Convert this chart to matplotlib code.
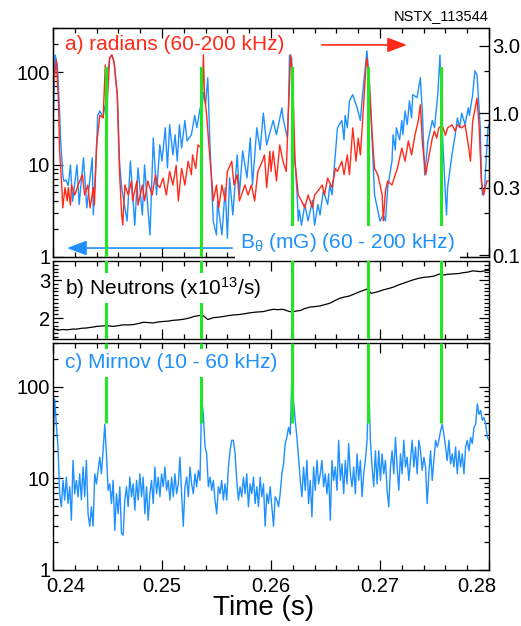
import numpy as np
import matplotlib
matplotlib.use('Agg')
import matplotlib.pyplot as plt
from matplotlib.ticker import FixedLocator, FixedFormatter, LogLocator, MultipleLocator, NullFormatter, FuncFormatter
from matplotlib.transforms import ScaledTranslation

plt.rcParams['font.family'] = ['Liberation Sans', 'DejaVu Sans']
plt.rcParams['mathtext.fontset'] = 'custom'
plt.rcParams['mathtext.rm'] = 'Liberation Sans'
plt.rcParams['mathtext.it'] = 'Liberation Sans:italic'

RED = '#ff2a1a'
BLUE = '#1e90ff'
GREEN = '#22e622'

# times of the fast bursts (green markers)
t_events = [0.2449, 0.2536, 0.2619, 0.2689, 0.2756]

# a) B_theta (mG), 60-200 kHz  -> left axis
t_bth = [0.2400, 0.2402, 0.2404, 0.2406, 0.2407, 0.2409, 0.2410, 0.2412, 0.2414, 0.2416,
         0.2418, 0.2422, 0.2424, 0.2428, 0.2431, 0.2436, 0.2437, 0.2440, 0.2441, 0.2443,
         0.2446, 0.2447, 0.2449, 0.2450, 0.2452, 0.2454, 0.2456, 0.2459, 0.2461, 0.2463,
         0.2468, 0.2471, 0.2475, 0.2478, 0.2482, 0.2484, 0.2489, 0.2492, 0.2495, 0.2498,
         0.2500, 0.2503, 0.2505, 0.2507, 0.2510, 0.2512, 0.2514, 0.2516, 0.2518, 0.2521,
         0.2523, 0.2527, 0.2530, 0.2532, 0.2535, 0.2537, 0.2538, 0.2540, 0.2542, 0.2544,
         0.2546, 0.2547, 0.2550, 0.2551, 0.2555, 0.2558, 0.2560, 0.2562, 0.2565, 0.2569,
         0.2571, 0.2574, 0.2578, 0.2581, 0.2583, 0.2587, 0.2590, 0.2593, 0.2596, 0.2602,
         0.2605, 0.2610, 0.2611, 0.2615, 0.2616, 0.2617, 0.2619, 0.2620, 0.2624, 0.2625,
         0.2626, 0.2628, 0.2631, 0.2634, 0.2638, 0.2640, 0.2643, 0.2645, 0.2648, 0.2652,
         0.2654, 0.2656, 0.2659, 0.2661, 0.2665, 0.2667, 0.2668, 0.2670, 0.2672, 0.2675,
         0.2679, 0.2682, 0.2684, 0.2688, 0.2690, 0.2693, 0.2695, 0.2700, 0.2703, 0.2705,
         0.2707, 0.2711, 0.2712, 0.2714, 0.2715, 0.2718, 0.2720, 0.2721, 0.2723, 0.2725,
         0.2727, 0.2729, 0.2730, 0.2734, 0.2737, 0.2739, 0.2741, 0.2744, 0.2748, 0.2750,
         0.2753, 0.2755, 0.2757, 0.2760, 0.2761, 0.2762, 0.2766, 0.2769, 0.2771, 0.2773,
         0.2775, 0.2778, 0.2781, 0.2782, 0.2785, 0.2787, 0.2789, 0.2792, 0.2793, 0.2794,
         0.2796, 0.2799, 0.2800]
bth = [25.5, 153, 120, 39, 18.5, 7.7, 6.6, 6.8, 5.9, 9.9,
       4.0, 9.9, 3.7, 11.8, 3.4, 11.8, 2.85, 15.1, 34, 38,
       32, 39, 50, 93, 142, 153, 129, 57, 10.9, 5.6,
       2.45, 10.9, 2.2, 9.2, 2.85, 9.9, 1.73, 19.4, 4.7, 16.3,
       10.9, 25, 9.2, 27, 12.7, 21, 10.9, 27, 15.1, 30,
       18, 21, 34, 25, 41, 44, 60, 45, 87, 16.3,
       4.7, 2.45, 1.73, 4.0, 1.73, 5.6, 1.6, 7.2, 2.85, 12.7,
       4.7, 14, 7.2, 19.4, 6.0, 25, 14.4, 36, 16.3, 30,
       21, 41, 32, 19.4, 41, 153, 142, 25, 4.7, 2.45,
       3.2, 2.2, 3.7, 2.45, 4.1, 2.2, 3.7, 2.85, 5.2, 3.7,
       6.0, 4.7, 12.7, 25, 30, 18.5, 34, 25, 49, 57,
       41, 30, 57, 170, 87, 16.3, 4.7, 2.45, 2.85, 2.45,
       5.6, 10.9, 21, 14.4, 25, 18.5, 30, 21, 38, 27,
       49, 32, 57, 53, 87, 34, 7.7, 18, 30, 25,
       57, 153, 25, 4.7, 2.85, 5.6, 12.7, 21, 32, 25,
       36, 27, 41, 34, 57, 103, 93, 25, 7.2, 4.7,
       5.6, 25, 27]

# a) radians, 60-200 kHz  -> right axis
t_rad = [0.2400, 0.2403, 0.2405, 0.2406, 0.2408, 0.2409, 0.2411, 0.2413, 0.2414, 0.2416,
         0.2417, 0.2420, 0.2423, 0.2427, 0.2429, 0.2432, 0.2434, 0.2437, 0.2438, 0.2440,
         0.2443, 0.2446, 0.2448, 0.2449, 0.2452, 0.2454, 0.2456, 0.2459, 0.2461, 0.2463,
         0.2464, 0.2466, 0.2469, 0.2472, 0.2473, 0.2477, 0.2478, 0.2482, 0.2484, 0.2487,
         0.2491, 0.2494, 0.2496, 0.2498, 0.2501, 0.2504, 0.2507, 0.2510, 0.2513, 0.2515,
         0.2518, 0.2521, 0.2524, 0.2527, 0.2528, 0.2531, 0.2533, 0.2536, 0.2537, 0.2538,
         0.2539, 0.2541, 0.2543, 0.2546, 0.2547, 0.2550, 0.2552, 0.2555, 0.2558, 0.2560,
         0.2564, 0.2566, 0.2569, 0.2571, 0.2576, 0.2579, 0.2582, 0.2585, 0.2588, 0.2592,
         0.2594, 0.2596, 0.2599, 0.2600, 0.2602, 0.2605, 0.2608, 0.2611, 0.2614, 0.2616,
         0.2618, 0.2620, 0.2622, 0.2625, 0.2628, 0.2631, 0.2634, 0.2638, 0.2640, 0.2643,
         0.2647, 0.2649, 0.2652, 0.2656, 0.2659, 0.2661, 0.2665, 0.2667, 0.2670, 0.2672,
         0.2675, 0.2678, 0.2680, 0.2682, 0.2684, 0.2687, 0.2688, 0.2690, 0.2693, 0.2695,
         0.2698, 0.2702, 0.2703, 0.2705, 0.2707, 0.2711, 0.2714, 0.2716, 0.2720, 0.2723,
         0.2726, 0.2729, 0.2732, 0.2735, 0.2737, 0.2739, 0.2742, 0.2744, 0.2748, 0.2750,
         0.2752, 0.2754, 0.2757, 0.2760, 0.2762, 0.2766, 0.2769, 0.2771, 0.2775, 0.2778,
         0.2781, 0.2783, 0.2785, 0.2789, 0.2791, 0.2793, 0.2795, 0.2798, 0.2800]
rad = [1.46, 2.38, 1.24, 0.55, 0.313, 0.216, 0.30, 0.242, 0.30, 0.226,
       0.313, 0.266, 0.313, 0.37, 0.266, 0.313, 0.216, 0.30, 0.226, 0.60,
       0.97, 0.93, 2.19, 0.93, 2.45, 2.58, 2.30, 1.35, 0.39, 0.193,
       0.164, 0.313, 0.266, 0.334, 0.242, 0.334, 0.226, 0.313, 0.242, 0.334,
       0.266, 0.37, 0.313, 0.30, 0.35, 0.266, 0.39, 0.313, 0.43, 0.242,
       0.41, 0.313, 0.46, 0.37, 0.51, 0.41, 0.60, 0.57, 1.35, 2.58,
       1.35, 0.97, 0.60, 0.313, 0.242, 0.313, 0.216, 0.313, 0.242, 0.39,
       0.46, 0.313, 0.37, 0.242, 0.313, 0.266, 0.313, 0.242, 0.39, 0.46,
       0.51, 0.30, 0.54, 0.39, 0.54, 0.334, 0.60, 0.46, 0.39, 1.04,
       2.58, 1.78, 0.46, 0.266, 0.242, 0.216, 0.266, 0.216, 0.266, 0.284,
       0.313, 0.266, 0.35, 0.30, 0.41, 0.39, 0.46, 0.37, 0.51, 0.37,
       0.79, 0.46, 0.67, 0.51, 0.88, 2.09, 2.45, 1.78, 0.67, 0.41,
       0.37, 0.266, 0.175, 0.284, 0.334, 0.313, 0.37, 0.41, 0.57, 0.46,
       0.64, 0.51, 0.70, 0.88, 1.15, 0.60, 0.37, 0.46, 0.67, 0.75,
       0.67, 0.79, 0.83, 0.70, 0.79, 0.83, 0.75, 0.83, 0.79, 0.83,
       0.60, 0.46, 0.88, 1.28, 0.79, 0.334, 0.266, 0.334, 0.334]

# b) neutron rate (x1e13 /s)
t_neut = [0.2400, 0.2402, 0.2405, 0.2409, 0.2413, 0.2418, 0.2422, 0.2426, 0.2431, 0.2436,
          0.2440, 0.2445, 0.2449, 0.2455, 0.2460, 0.2464, 0.2470, 0.2474, 0.2479, 0.2483,
          0.2488, 0.2492, 0.2497, 0.2501, 0.2506, 0.2510, 0.2515, 0.2520, 0.2525, 0.2529,
          0.2535, 0.2538, 0.2542, 0.2547, 0.2551, 0.2556, 0.2560, 0.2565, 0.2570, 0.2575,
          0.2579, 0.2584, 0.2588, 0.2593, 0.2597, 0.2602, 0.2606, 0.2611, 0.2617, 0.2620,
          0.2627, 0.2631, 0.2636, 0.2640, 0.2645, 0.2649, 0.2654, 0.2658, 0.2663, 0.2667,
          0.2672, 0.2677, 0.2682, 0.2685, 0.2688, 0.2692, 0.2695, 0.2699, 0.2703, 0.2707,
          0.2712, 0.2716, 0.2721, 0.2726, 0.2730, 0.2735, 0.2740, 0.2744, 0.2749, 0.2755,
          0.2758, 0.2762, 0.2767, 0.2772, 0.2776, 0.2781, 0.2785, 0.2789, 0.2792, 0.2796,
          0.2800]
neut = [1.74, 1.70, 1.68, 1.70, 1.69, 1.71, 1.71, 1.73, 1.74, 1.76,
        1.78, 1.79, 1.80, 1.78, 1.80, 1.82, 1.82, 1.83, 1.86, 1.89,
        1.88, 1.87, 1.90, 1.91, 1.92, 1.94, 1.95, 1.97, 2.00, 2.04,
        2.07, 2.06, 1.96, 2.01, 2.02, 2.04, 2.06, 2.08, 2.09, 2.11,
        2.13, 2.15, 2.16, 2.17, 2.20, 2.23, 2.22, 2.23, 2.17, 2.17,
        2.20, 2.25, 2.29, 2.30, 2.32, 2.35, 2.39, 2.45, 2.52, 2.55,
        2.58, 2.64, 2.70, 2.73, 2.76, 2.65, 2.67, 2.70, 2.74, 2.77,
        2.81, 2.86, 2.91, 2.96, 3.00, 3.04, 3.07, 3.08, 3.10, 3.16,
        3.13, 3.15, 3.16, 3.17, 3.19, 3.21, 3.24, 3.23, 3.22, 3.24,
        3.26]

# c) Mirnov amplitude, 10-60 kHz, evenly sampled over 0.240-0.280 s
mirnov = [20, 73, 39, 22, 6.8, 4.9, 9.5, 5.8, 10.3, 5.3,
          8.1, 3.5, 15.7, 6.8, 9.5, 6.3, 11.2, 5.8, 13.3, 6.3,
          15.7, 4.1, 3.0, 4.9, 3.0, 11.2, 8.7, 12.2, 17, 11.2,
          20, 39, 18.5, 7.4, 8.7, 5.3, 9.5, 2.7, 6.8, 4.1,
          8.1, 2.5, 2.4, 5.8, 8.1, 4.9, 10.3, 6.3, 8.7, 4.5,
          9.5, 5.8, 11.2, 6.3, 10.3, 4.1, 8.1, 3.5, 6.8, 9.5,
          5.3, 13.3, 6.8, 10.3, 6.3, 11.2, 8.1, 13.3, 7.4, 9.5,
          5.8, 10.3, 6.3, 11.2, 6.8, 8.7, 17, 6.8, 3.0, 8.1,
          10.3, 6.3, 13.3, 8.7, 6.8, 11.2, 8.1, 12.2, 9.5, 76,
          50, 22, 18.5, 8.1, 10.3, 7.4, 9.5, 5.8, 4.1, 8.1,
          6.8, 9.5, 5.8, 8.7, 5.8, 13.3, 20, 26, 26, 18.5,
          9.5, 5.8, 8.1, 6.3, 10.3, 6.8, 11.2, 4.9, 8.7, 6.8,
          10.3, 5.3, 8.1, 4.9, 10.3, 6.3, 8.7, 3.0, 6.8, 5.3,
          8.1, 4.9, 3.0, 6.3, 5.8, 4.9, 6.8, 11.2, 14.4, 24,
          28, 36, 30, 126, 70, 43, 28, 17, 9.5, 6.3,
          13.3, 7.4, 15.7, 5.3, 9.5, 3.8, 13.3, 7.4, 15.7, 8.7,
          11.2, 15.7, 8.1, 11.2, 6.8, 11.2, 3.5, 15.7, 9.5, 13.3,
          7.4, 26, 9.5, 14.4, 6.8, 15.7, 8.7, 24, 11.2, 8.1,
          13.3, 6.8, 18.5, 9.5, 15.7, 6.3, 11.2, 15.7, 26, 110,
          26, 13.3, 8.1, 20, 8.7, 20, 9.5, 18.5, 11.2, 15.7,
          7.4, 4.9, 13.3, 20, 11.2, 28, 13.3, 7.4, 18.5, 11.2,
          26, 13.3, 17, 9.5, 15.7, 26, 13.3, 22, 11.2, 26,
          20, 12.2, 17, 13.3, 5.3, 11.2, 20, 9.5, 15.7, 26,
          22, 26, 33, 39, 30, 22, 15.7, 26, 14.4, 18.5,
          13.3, 22, 11.2, 20, 13.3, 18.5, 11.2, 22, 26, 20,
          28, 24, 36, 39, 65, 50, 55, 43, 46, 39,
          28, 26]
t_mirnov = np.linspace(0.24, 0.28, len(mirnov))

x_ticks = [0.24, 0.25, 0.26, 0.27, 0.28]
x_labels = ['0.24', '0.25', '0.26', '0.27', '0.28']

fig = plt.figure(figsize=(5.21, 6.26), dpi=100)
L, W = 0.1017, 0.8369
ax_a = fig.add_axes([L, 0.5895, W, 0.3658])
ax_b = fig.add_axes([L, 0.4585, W, 0.1246])
ax_c = fig.add_axes([L, 0.0895, W, 0.3626])
ax_r = ax_a.twinx()


def base_style(ax, right=True):
    ax.set_xlim(0.24, 0.28)
    ax.xaxis.set_major_locator(FixedLocator(x_ticks))
    ax.xaxis.set_minor_locator(MultipleLocator(0.002))
    ax.tick_params(which='both', direction='in', top=True, right=right,
                   labelsize=14.5, width=0.9, pad=2)
    ax.tick_params(which='major', length=7)
    ax.tick_params(which='minor', length=3.5)
    for s in ax.spines.values():
        s.set_linewidth(1.0)


def log_y(ax):
    ax.set_yscale('log')
    ax.set_ylim(1, 300)
    ax.yaxis.set_major_locator(FixedLocator([1, 10, 100]))
    ax.yaxis.set_major_formatter(FuncFormatter(lambda v, p: f'{v:g}'))
    ax.yaxis.set_minor_locator(LogLocator(base=10, subs=np.arange(2, 10)))
    ax.yaxis.set_minor_formatter(NullFormatter())


# panel a
base_style(ax_a, right=False)
log_y(ax_a)
ax_a.tick_params(axis='x', labelbottom=False)
ax_a.plot(t_bth, bth, color=BLUE, lw=1.0)

ax_r.set_yscale('log')
ax_r.set_ylim(0.0975, 3.99)
ax_r.yaxis.set_major_locator(FixedLocator([0.1, 0.3, 1.0, 3.0]))
ax_r.yaxis.set_major_formatter(FixedFormatter(['0.1', '0.3', '1.0', '3.0']))
ax_r.yaxis.set_minor_locator(LogLocator(base=10, subs=np.arange(2, 10)))
ax_r.yaxis.set_minor_formatter(NullFormatter())
ax_r.tick_params(which='both', direction='in', labelsize=14.5, width=0.9, pad=2)
ax_r.tick_params(which='major', length=7)
ax_r.tick_params(which='minor', length=3.5)
ax_r.plot(t_rad, rad, color=RED, lw=1.0, zorder=2)

green_top_a = 110
frac_a = np.log10(green_top_a) / np.log10(300)
for t in t_events:
    ax_r.axvline(t, ymin=0, ymax=frac_a, color=GREEN, lw=2.2, zorder=4)

ax_r.text(0.0275, 0.926, 'a) radians (60-200 kHz)', transform=ax_r.transAxes,
          color=RED, fontsize=15, va='center', ha='left', zorder=6)
ax_r.annotate('', xy=(0.812, 0.926), xytext=(0.617, 0.926), xycoords='axes fraction',
              arrowprops=dict(arrowstyle='-|>,head_length=0.8,head_width=0.3', color=RED,
                              lw=1.2, shrinkA=0, shrinkB=0, mutation_scale=15), zorder=3)
ax_r.annotate('', xy=(0.032, 0.039), xytext=(0.411, 0.039), xycoords='axes fraction',
              arrowprops=dict(arrowstyle='-|>,head_length=0.8,head_width=0.3', color=BLUE,
                              lw=1.2, shrinkA=0, shrinkB=0, mutation_scale=15), zorder=3)
ax_r.text(0.429, 0.064, r'B$_{\mathrm{\theta}}$ (mG) (60 - 200 kHz)', transform=ax_r.transAxes,
          color=BLUE, fontsize=15, va='center', ha='left', zorder=6,
          bbox=dict(boxstyle='square,pad=0.25', fc='white', ec='none'))

# panel b
base_style(ax_b)
ax_b.set_ylim(1.45, 3.5)
ax_b.yaxis.set_major_locator(FixedLocator([2, 3]))
ax_b.yaxis.set_major_formatter(FuncFormatter(lambda v, p: f'{v:g}'))
ax_b.yaxis.set_minor_locator(MultipleLocator(0.1))
ax_b.tick_params(axis='x', labelbottom=False)
ax_b.plot(t_neut, neut, color='black', lw=0.9, zorder=2)
for t in t_events:
    ax_b.axvline(t, color=GREEN, lw=2.2, zorder=3)
ax_b.text(0.0275, 0.654, 'b) Neutrons (x10$^{13}$/s)', transform=ax_b.transAxes,
          color='black', fontsize=15, va='center', ha='left', zorder=6,
          bbox=dict(boxstyle='square,pad=0.12', fc='white', ec='none'))

# panel c
base_style(ax_c)
log_y(ax_c)
ax_c.plot(t_mirnov, mirnov, color=BLUE, lw=1.0, zorder=2)
ax_c.vlines(t_events, 40, 300, color=GREEN, lw=2.2, zorder=3)
ax_c.text(0.0275, 0.912, 'c) Mirnov (10 - 60 kHz)', transform=ax_c.transAxes,
          color=BLUE, fontsize=15, va='center', ha='left', zorder=6,
          bbox=dict(boxstyle='square,pad=0.2', fc='white', ec='none'))
ax_c.xaxis.set_major_formatter(FixedFormatter(x_labels))
ax_c.tick_params(axis='x', pad=5)

# nudge the end labels inwards like the original
labs = ax_c.get_xticklabels()
labs[0].set_transform(labs[0].get_transform() + ScaledTranslation(0.13, 0, fig.dpi_scale_trans))
labs[-1].set_transform(labs[-1].get_transform() + ScaledTranslation(-0.12, 0, fig.dpi_scale_trans))

fig.text(0.505, 0.029, 'Time (s)', ha='center', va='center', fontsize=20)
fig.text(0.937, 0.974, 'NSTX_113544', ha='right', va='center', fontsize=10.5)

fig.savefig('out.png', dpi=100)
